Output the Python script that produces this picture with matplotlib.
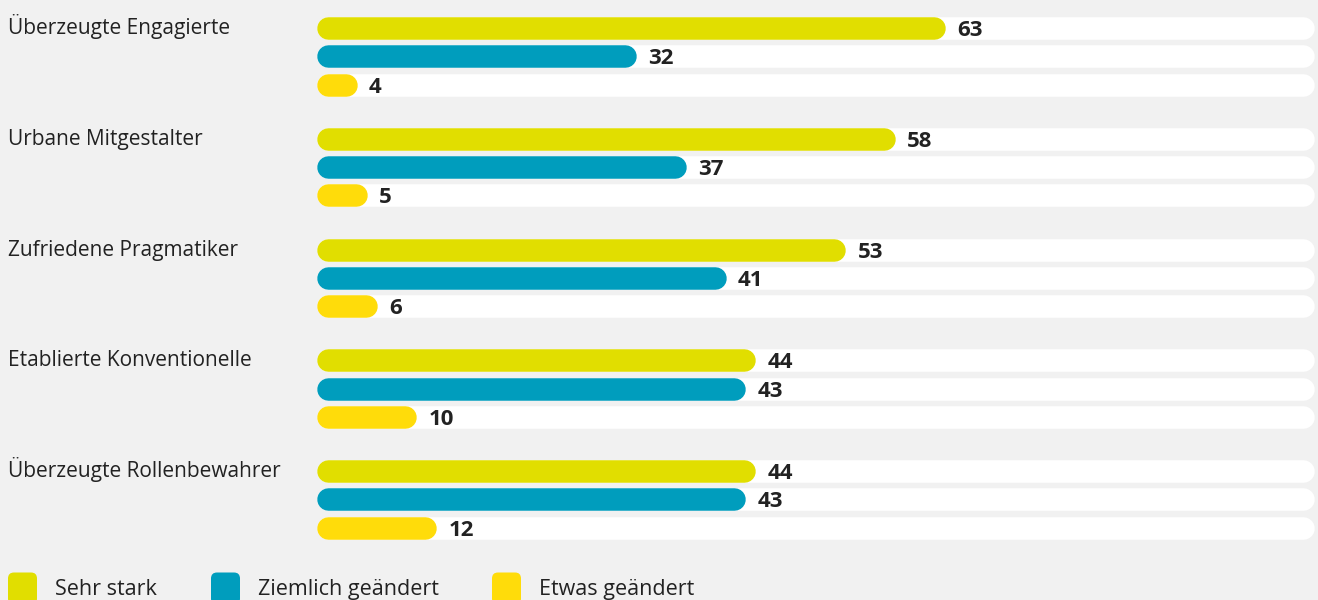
import matplotlib.pyplot as plt
from matplotlib.patches import FancyBboxPatch

plt.rcParams['font.family'] = ['Open Sans', 'DejaVu Sans']

groups = ["Überzeugte Engagierte", "Urbane Mitgestalter", "Zufriedene Pragmatiker",
          "Etablierte Konventionelle", "Überzeugte Rollenbewahrer"]
series = ["Sehr stark", "Ziemlich geändert", "Etwas geändert"]
sehr_stark = [63, 58, 53, 44, 44]
ziemlich = [32, 37, 41, 43, 43]
etwas = [4, 5, 6, 10, 12]
colors = ["#e1de00", "#009dbd", "#ffdc0a"]

bg = "#f1f1f1"
text_col = "#222222"

# layout in pixels
W, H = 1318, 600
x0 = 317            # left end of bars
ppu = 9.97          # pixels per percent
bar_h = 22.5        # bar thickness px
row_step = 28.2
group_step = 110.75
first_center = 28.2

fig = plt.figure(figsize=(W / 100, H / 100), dpi=100)
fig.patch.set_facecolor(bg)
ax = fig.add_axes([0, 0, 1, 1])
ax.set_facecolor(bg)
ax.set_xlim(-x0 / ppu, (W - x0) / ppu)
ax.set_ylim(H, 0)
ax.axis('off')

lw = bar_h * 72 / 100
r = bar_h / 2 / ppu

for i, g in enumerate(groups):
    vals = [sehr_stark[i], ziemlich[i], etwas[i]]
    top_center = first_center + i * group_step
    ax.text(-(x0 - 8) / ppu, top_center + 6, g, fontsize=15, color=text_col,
            va='baseline', ha='left')
    for j, v in enumerate(vals):
        y = top_center + j * row_step
        ax.hlines(y, r, 100 - r, colors='white', linewidth=lw, capstyle='round')
        ax.hlines(y, r, v - r, colors=colors[j], linewidth=lw, capstyle='round')
        ax.text(v + 12 / ppu, y + 8, str(v), fontsize=16, fontweight='bold',
                color=text_col, va='baseline', ha='left')

# legend in pixel coordinates
lay = fig.add_axes([0, 0, 1, 1])
lay.set_xlim(0, W)
lay.set_ylim(H, 0)
lay.axis('off')
leg_x = [8, 211, 492]
for k, name in enumerate(series):
    lay.add_patch(FancyBboxPatch((leg_x[k], 572.5), 29, 32,
                                 boxstyle='round,pad=0,rounding_size=6',
                                 facecolor=colors[k], edgecolor='none'))
    lay.text(leg_x[k] + 47, 595, name, fontsize=15.5, color=text_col,
             va='baseline', ha='left')

fig.savefig("out.png", dpi=100, facecolor=bg)
